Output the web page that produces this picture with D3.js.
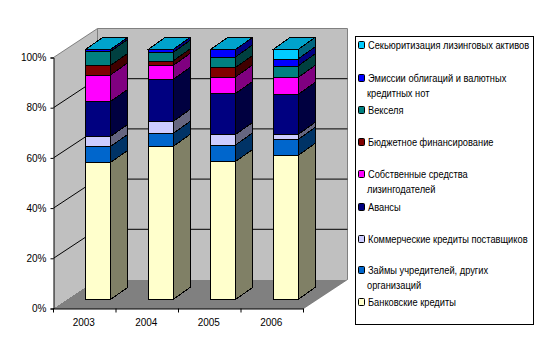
<!DOCTYPE html>
<html>
<head>
<meta charset="utf-8">
<script src="https://cdnjs.cloudflare.com/ajax/libs/d3/7.8.5/d3.min.js"></script>
<style>
    html, body { margin: 0; padding: 0; background: #fff; }
    svg { display: block; }
    text { font-family: "Liberation Sans", Arial, sans-serif; font-size: 10px; fill: #000; }
    .crisp { shape-rendering: crispEdges; }
</style>
</head>
<body>
<div id="chart"></div>
<script>
"use strict"

const years = ["2003", "2004", "2005", "2006"];
const percent_ticks = [0, 20, 40, 60, 80, 100];

// Values, bottom of the stack first
const bank_credits      = [54.8, 61.2, 55.2, 57.6];
const founder_loans     = [6.4, 5.2, 6.6, 6.4];
const supplier_credits  = [4.0, 4.8, 4.2, 2.0];
const advances          = [14.0, 16.8, 16.4, 16.0];
const own_funds         = [10.6, 5.6, 6.6, 6.8];
const budget_funding    = [3.8, 1.8, 3.8, 0];
const promissory_notes  = [5.6, 3.4, 4.2, 4.6];
const bond_issues       = [0.8, 1.2, 3.0, 2.8];
const securitisation    = [0, 0, 0, 3.8];

const series_values = [bank_credits, founder_loans, supplier_credits, advances,
    own_funds, budget_funding, promissory_notes, bond_issues, securitisation];
const series_colors = ["#FFFFCC", "#0066CC", "#CCCCFF", "#000080",
    "#FF00FF", "#800000", "#008080", "#0000FF", "#00CCFF"];

// Legend reads top to bottom, top of the stack first
const legend_labels = [
    ["Секьюритизация лизинговых активов"],
    ["Эмиссии облигаций и валютных", "кредитных нот"],
    ["Векселя"],
    ["Бюджетное финансирование"],
    ["Собственные средства", "лизингодателей"],
    ["Авансы"],
    ["Коммерческие кредиты поставщиков"],
    ["Займы учредителей, других", "организаций"],
    ["Банковские кредиты"]
];
const legend_colors = series_colors.slice().reverse();
const legend_centres = [45, 78, 110, 142, 174, 207, 239, 270, 302];

const svg = d3.select("#chart").append("svg")
    .attr("width", 542)
    .attr("height", 362);

// Front plane of the 3D box and how far the back wall is pushed
const plot = {"left": 53.5, "right": 303.5, "top": 57.5, "bottom": 308.5};
const wall = {"dx": 44, "dy": -29};
// Depth of each column and its offset inside the category
const bar = {"width": 25, "offset": 32, "dx": 17, "dy": -12};

const scaleX = d3.scaleBand().domain(years).range([plot.left, plot.right]);
const scaleY = d3.scaleLinear().domain([0, 100]).range([plot.bottom, plot.top]);
// Columns stand a bit inside the floor, so they have their own vertical scale
const scaleBar = d3.scaleLinear().domain([0, 100]).range([299.5, 49.5]);

function polygon(parent, points, fill, stroke) {
    return parent.append("polygon")
        .attr("class", "crisp")
        .attr("points", points.map(p => p.join(",")).join(" "))
        .attr("fill", fill)
        .attr("stroke", stroke || "none");
}

// shade a colour towards black, the way the side faces are darkened
function shade(color, k) {
    let c = d3.rgb(color);
    return d3.rgb(c.r * k, c.g * k, c.b * k).formatHex();
}

///////////////////
// Walls and floor
const walls = svg.append("g");
polygon(walls, [[plot.left, plot.top], [plot.left + wall.dx, plot.top + wall.dy],
    [plot.left + wall.dx, plot.bottom + wall.dy], [plot.left, plot.bottom]], "#C0C0C0");
polygon(walls, [[plot.left + wall.dx, plot.top + wall.dy], [plot.right + wall.dx, plot.top + wall.dy],
    [plot.right + wall.dx, plot.bottom + wall.dy], [plot.left + wall.dx, plot.bottom + wall.dy]], "#C0C0C0");
polygon(walls, [[plot.left, plot.bottom], [plot.right, plot.bottom],
    [plot.right + wall.dx, plot.bottom + wall.dy], [plot.left + wall.dx, plot.bottom + wall.dy]], "#808080");

// Wall outline
walls.append("path")
    .attr("d", d3.line()([[plot.left, plot.top], [plot.left + wall.dx, plot.top + wall.dy],
        [plot.right + wall.dx, plot.top + wall.dy], [plot.right + wall.dx, plot.bottom + wall.dy],
        [plot.right, plot.bottom]]))
    .attr("fill", "none")
    .attr("stroke", "#808080");
walls.append("path")
    .attr("d", d3.line()([[plot.left + wall.dx, plot.top + wall.dy], [plot.left + wall.dx, plot.bottom + wall.dy]]))
    .attr("stroke", "#808080");

// Gridlines run along the left wall, then across the back wall
const gridlines = percent_ticks.filter(d => d > 0 && d < 100);
svg.append("g").selectAll("path")
    .data(gridlines)
    .enter()
    .append("path")
        .attr("d", d => d3.line()([[plot.left, scaleY(d)],
            [plot.left + wall.dx, scaleY(d) + wall.dy],
            [plot.right + wall.dx, scaleY(d) + wall.dy]]))
        .attr("fill", "none")
        .attr("stroke", "#000");

///////////////////
// Stacked columns
const stack_rows = years.map((year, i) => {
    let row = {"year": year};
    series_values.forEach((values, s) => { row["s" + s] = values[i]; });
    return row;
});
const stack = d3.stack().keys(series_values.map((v, s) => "s" + s))(stack_rows);

years.forEach((year, i) => {
    const g = svg.append("g");
    const x0 = scaleX(year) + bar.offset;
    const x1 = x0 + bar.width;

    stack.forEach((layer, s) => {
        const y0 = scaleBar(layer[i][0]);
        const y1 = scaleBar(layer[i][1]);
        if (y0 === y1) { return; }
        // front face
        g.append("rect")
            .attr("class", "crisp")
            .attr("x", x0)
            .attr("y", y1)
            .attr("width", bar.width)
            .attr("height", y0 - y1)
            .attr("fill", series_colors[s])
            .attr("stroke", "#000");
        // side face
        polygon(g, [[x1, y0], [x1 + bar.dx, y0 + bar.dy], [x1 + bar.dx, y1 + bar.dy], [x1, y1]],
            shade(series_colors[s], 0.5), "#000");
    });

    // Lid keeps the colour of the top series even when that series is empty
    const yTop = scaleBar(100);
    polygon(g, [[x0, yTop], [x1, yTop], [x1 + bar.dx, yTop + bar.dy], [x0 + bar.dx, yTop + bar.dy]],
        "#00A3CC", "#000");
});

///////////////////
// Axes
const yAxis = d3.axisLeft(scaleY)
    .tickValues(percent_ticks)
    .tickFormat(d => d + "%")
    .tickSize(3)
    .tickPadding(4);
const yAxisGroup = svg.append("g")
    .attr("transform", "translate(" + plot.left + ",0)")
    .call(yAxis);

const xAxis = d3.axisBottom(scaleX).tickSize(0).tickPadding(10);
const xAxisGroup = svg.append("g")
    .attr("transform", "translate(0," + plot.bottom + ")")
    .call(xAxis);
xAxisGroup.selectAll(".tick text").attr("dx", -1);

// Ticks sit between the categories, not under them
xAxisGroup.selectAll("line.edge")
    .data(years.concat(["end"]))
    .enter()
    .append("line")
        .attr("class", "edge")
        .attr("x1", d => d === "end" ? plot.right : scaleX(d))
        .attr("x2", d => d === "end" ? plot.right : scaleX(d))
        .attr("y1", 0)
        .attr("y2", 4)
        .attr("stroke", "#000");

svg.selectAll(".domain").attr("stroke", "#000");
svg.selectAll(".tick text").style("font-size", "10px").style("font-family", '"Liberation Sans", Arial, sans-serif');

///////////////////
// Legend
const legend = svg.append("g");
legend.append("rect")
    .attr("class", "crisp")
    .attr("x", 355.5)
    .attr("y", 36.5)
    .attr("width", 178)
    .attr("height", 288)
    .attr("fill", "#fff")
    .attr("stroke", "#000");

legend_labels.forEach((lines, i) => {
    const cy = legend_centres[i];
    legend.append("rect")
        .attr("x", 358.5)
        .attr("y", cy - 3.5)
        .attr("width", 6)
        .attr("height", 7)
        .attr("rx", 1)
        .attr("fill", legend_colors[i])
        .attr("stroke", "#000");
    lines.forEach((line, j) => {
        // Narrowed a little, the original font is tighter than Liberation Sans
        legend.append("text")
            .attr("transform", "translate(" + (j === 0 ? 368 : 367) + "," + (cy + 4 + j * 15) + ") scale(0.93,1)")
            .text(line);
    });
});
</script>
</body>
</html>
